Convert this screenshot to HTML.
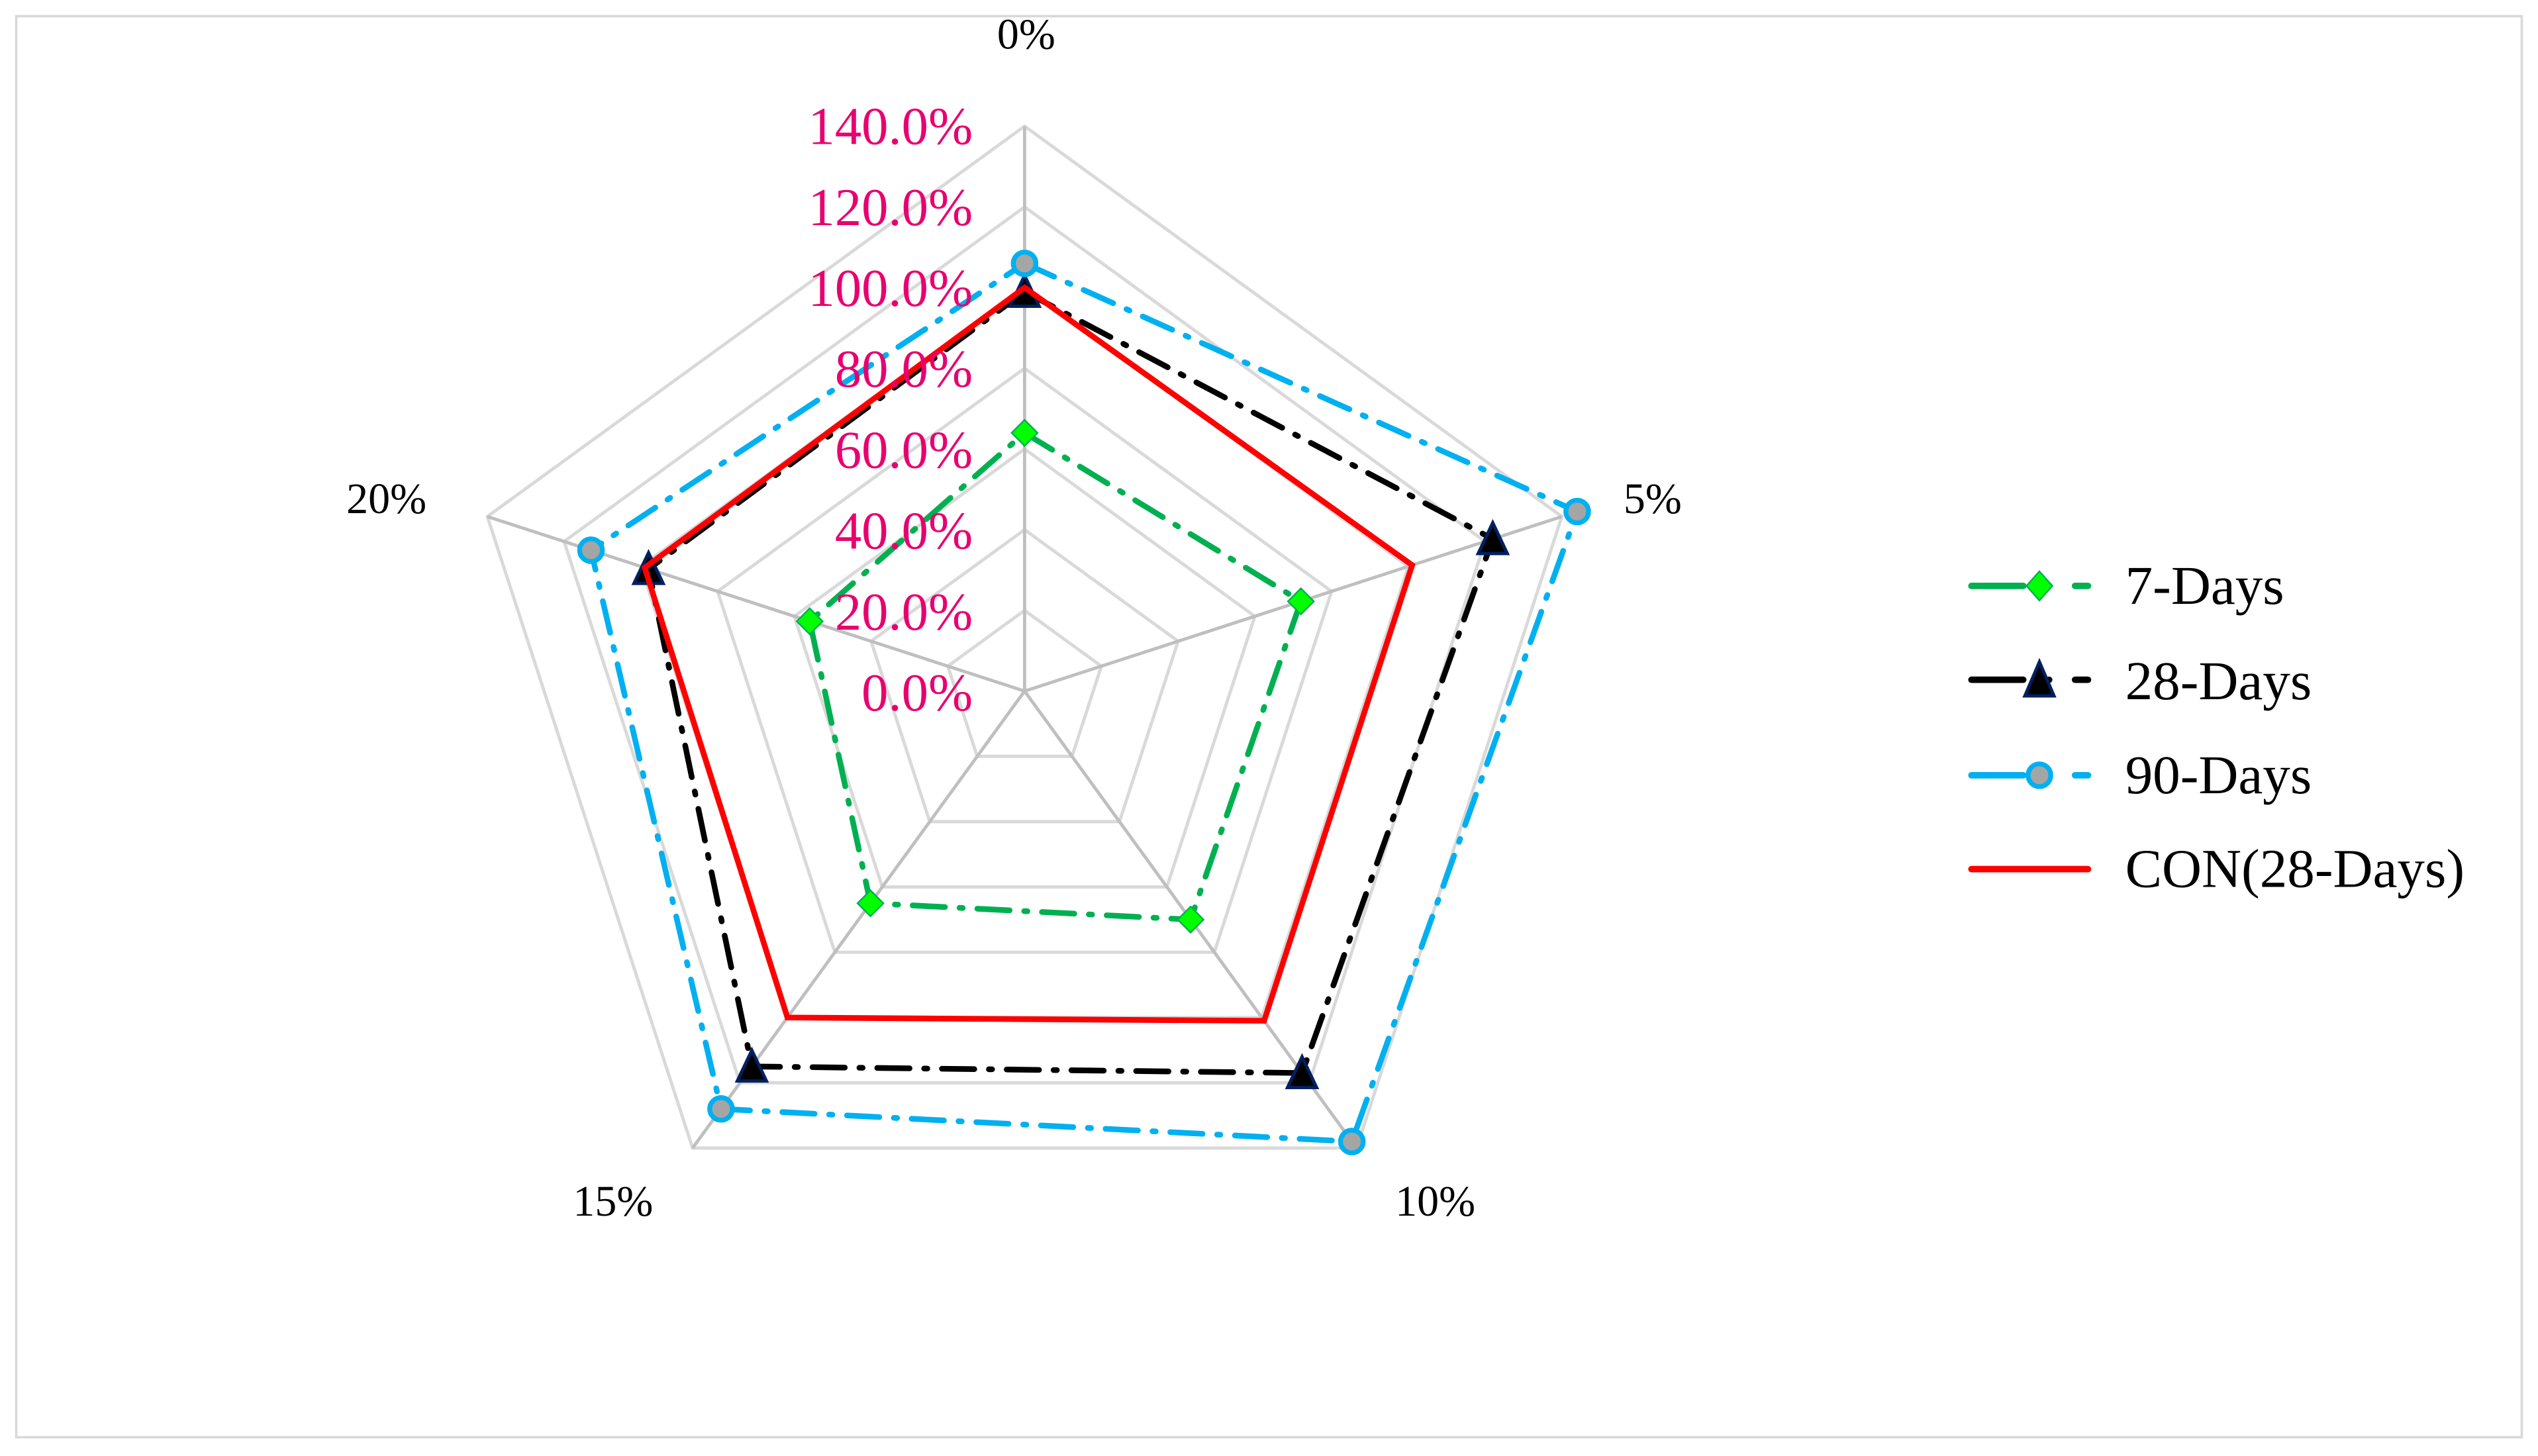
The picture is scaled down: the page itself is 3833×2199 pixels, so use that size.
<!DOCTYPE html>
<html><head><meta charset="utf-8"><style>html,body{margin:0;padding:0;background:#fff}svg{display:block}</style></head>
<body>
<svg width="3833" height="2199" viewBox="0 0 1568 899.6" xmlns="http://www.w3.org/2000/svg" font-family="'Liberation Serif',serif">
<rect x="10" y="10" width="1548" height="878" fill="#fff" stroke="#d9d9d9" stroke-width="1.5"/>
<g id="chart"></g>
<g font-size="33" fill="#E8006F" text-anchor="end">
<text x="601" y="89">140.0%</text>
<text x="601" y="139">120.0%</text>
<text x="601" y="189">100.0%</text>
<text x="601" y="239">80.0%</text>
<text x="601" y="289">60.0%</text>
<text x="601" y="339">40.0%</text>
<text x="601" y="389">20.0%</text>
<text x="601" y="439">0.0%</text>
</g>
<g font-size="27" fill="#000">
<text x="634" y="30" text-anchor="middle">0%</text>
<text x="1003" y="317">5%</text>
<text x="862" y="751">10%</text>
<text x="354" y="751">15%</text>
<text x="214" y="317">20%</text>
</g>
<g font-size="34" fill="#000">
<line x1="1218" y1="362" x2="1250" y2="362" stroke="#00B050" stroke-width="4" stroke-linecap="round"/>
<circle cx="1266" cy="362" r="2" fill="#00B050"/>
<line x1="1282" y1="362" x2="1290" y2="362" stroke="#00B050" stroke-width="4" stroke-linecap="round"/>
<polygon points="1260,353 1268,362 1260,371 1252,362" fill="#00FF00" stroke="#00B050" stroke-width="1"/>
<text x="1313" y="373">7-Days</text>
<line x1="1218" y1="420" x2="1250" y2="420" stroke="#000" stroke-width="4" stroke-linecap="round"/>
<circle cx="1266" cy="420" r="2" fill="#000"/>
<line x1="1282" y1="420" x2="1290" y2="420" stroke="#000" stroke-width="4" stroke-linecap="round"/>
<polygon points="1260,409 1269,430 1251,430" fill="#000" stroke="#002060" stroke-width="2"/>
<text x="1313" y="432">28-Days</text>
<line x1="1218" y1="479" x2="1250" y2="479" stroke="#00B0F0" stroke-width="4" stroke-linecap="round"/>
<circle cx="1266" cy="479" r="2" fill="#00B0F0"/>
<line x1="1282" y1="479" x2="1290" y2="479" stroke="#00B0F0" stroke-width="4" stroke-linecap="round"/>
<circle cx="1260" cy="479" r="7" fill="#A5A5A5" stroke="#00B0F0" stroke-width="3"/>
<text x="1313" y="490">90-Days</text>
<line x1="1218" y1="537" x2="1290" y2="537" stroke="#FF0000" stroke-width="4" stroke-linecap="round"/>
<text x="1313" y="548">CON(28-Days)</text>
</g>
<script>
(function(){
var cx=633,cy=427,k=349/140,NS="http://www.w3.org/2000/svg";
var g=document.getElementById('chart');
function pt(i,v){var a=i*72*Math.PI/180;return [cx+Math.sin(a)*v*k,cy-Math.cos(a)*v*k];}
function el(n,at){var e=document.createElementNS(NS,n);for(var a in at)e.setAttribute(a,at[a]);g.appendChild(e);return e;}
for(var r=20;r<=140;r+=20){var p=[];for(var i=0;i<5;i++)p.push(pt(i,r).join(','));el('polygon',{points:p.join(' '),fill:'none',stroke:'#d9d9d9','stroke-width':2});}
for(var i=0;i<5;i++){var q=pt(i,140);el('line',{x1:cx,y1:cy,x2:q[0],y2:q[1],stroke:'#bfbfbf','stroke-width':2});}
var S=[
 {v:[64,72,70,65,56],c:'#00B050',d:'20 9 2 9',m:'dia'},
 {v:[99,122,117,115,98],c:'#000',d:'20 9 2 9',m:'tri'},
 {v:[106,144,138,128,113],c:'#00B0F0',d:'20 9 2 9',m:'cir'},
 {v:[100,101,101,100,99],c:'#FF0000',d:null,m:null}];
S.forEach(function(s){var p=[];for(var i=0;i<5;i++)p.push(pt(i,s.v[i]));
 var at={points:p.map(function(x){return x.join(',')}).join(' '),fill:'none',stroke:s.c,'stroke-width':3.5,'stroke-linecap':'round'};
 if(s.d)at['stroke-dasharray']=s.d;el('polygon',at);
 p.forEach(function(q){var x=q[0],y=q[1];
  if(s.m=='dia')el('polygon',{points:[x,y-8,x+8,y,x,y+8,x-8,y].join(' '),fill:'#00FF00',stroke:'#00B050','stroke-width':1});
  if(s.m=='tri')el('polygon',{points:[x,y-10,x+9,y+9,x-9,y+9].join(' '),fill:'#000',stroke:'#002060','stroke-width':2});
  if(s.m=='cir')el('circle',{cx:x,cy:y,r:7,fill:'#A5A5A5',stroke:'#00B0F0','stroke-width':3});
 });});
})();
</script>
</svg>
</body></html>
